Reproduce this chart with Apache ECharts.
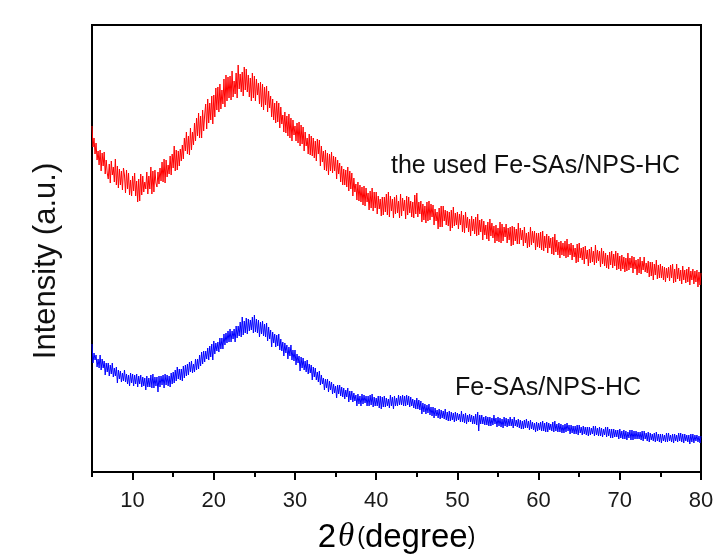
<!DOCTYPE html>
<html>
<head>
<meta charset="utf-8">
<script src="https://cdn.jsdelivr.net/npm/echarts@6/dist/echarts.min.js"></script>
<style>
  html, body { margin: 0; padding: 0; background: #ffffff; }
  #chart { width: 722px; height: 554px; }
</style>
</head>
<body>
<div id="chart"></div>
<script>
// XRD scan: 2θ from 5° to 80°, sampled every 0.125° (one row of 8 readings per degree)
const scanStart = 5;
const scanStep = 0.125;

// Intensity (a.u.) of the used Fe-SAs/NPS-HC sample
const usedIntensity = [
  346,325,334,318,329,312,321,307,
  322,301,319,306,320,298,312,299,
  293,308,289,311,297,305,290,313,
  287,306,284,303,287,301,282,304,
  297,279,302,283,299,277,292,276,
  296,281,299,276,291,270,293,271,
  298,277,296,280,290,283,300,278,
  296,283,305,278,301,280,302,289,
  285,300,288,304,291,310,290,313,
  289,312,295,307,298,316,297,318,
  304,326,301,322,302,321,306,323,
  311,327,313,334,321,340,318,336,
  317,344,322,340,327,349,331,354,
  336,359,334,356,334,362,341,357,
  368,343,373,349,369,352,376,348,
  377,355,384,362,385,360,388,363,
  382,368,393,365,397,371,395,374,
  396,372,401,375,391,378,399,374,
  407,383,398,380,400,376,405,382,
  403,380,397,375,394,371,399,374,
  396,371,393,377,389,368,390,365,
  388,362,385,367,386,360,381,364,
  376,355,373,352,369,349,371,350,
  369,344,365,348,357,340,360,339,
  356,336,358,334,354,331,352,337,
  346,331,349,329,350,326,347,328,
  345,321,340,326,334,318,338,317,
  336,316,334,314,331,311,333,318,
  332,306,326,310,321,302,322,301,
  319,297,318,301,320,299,316,301,
  315,293,312,298,309,290,306,287,
  303,287,302,285,305,281,301,283,
  299,276,294,280,288,272,290,271,
  287,270,285,267,286,266,284,270,
  279,262,281,264,284,261,280,264,
  280,258,276,263,273,256,275,257,
  275,260,278,257,280,255,276,261,
  273,254,275,258,277,259,271,254,
  278,256,274,261,272,253,276,257,
  275,259,271,255,270,254,277,258,
  279,255,270,258,271,250,268,252,
  266,249,270,251,271,252,268,255,
  267,247,263,251,260,243,264,245,
  266,245,266,251,262,247,261,246,
  260,241,262,244,265,246,259,247,
  260,243,258,247,261,240,257,239,
  260,244,255,240,253,236,256,241,
  253,238,255,236,258,237,252,240,
  253,232,251,237,247,233,250,231,
  253,236,249,234,246,229,247,231,
  244,230,250,229,248,231,245,235,
  248,229,244,232,245,226,246,227,
  245,231,243,228,249,228,244,232,
  242,226,245,229,239,224,240,225,
  245,227,241,229,241,222,239,225,
  239,224,240,222,241,221,236,224,
  238,219,236,224,234,218,235,217,
  238,220,232,217,230,214,231,217,
  229,216,231,214,233,215,228,217,
  229,212,227,215,224,209,228,210,
  229,214,224,212,225,208,226,213,
  222,206,223,209,225,210,221,207,
  227,209,222,211,221,205,224,208,
  221,206,219,204,217,203,220,207,
  221,204,218,206,221,202,219,203,
  216,201,217,203,215,200,214,201,
  219,202,214,204,216,199,215,203,
  212,197,213,199,215,198,211,202,
  215,200,209,199,211,195,210,196,
  210,192,208,197,212,193,207,194,
  208,194,206,192,205,190,204,194,
  205,191,207,194,208,189,203,190,
  208,193,204,191,202,188,206,192,
  202,189,203,190,205,187,201,192,
  203,188,201,190,202,185,200,187,
  199
];

// Intensity (a.u.) of the fresh Fe-SAs/NPS-HC sample
const freshIntensity = [
  128,109,119,112,117,105,113,104,
  117,102,113,104,111,97,109,100,
  109,96,107,98,109,95,104,96,
  105,89,102,93,101,90,99,91,
  102,90,98,88,97,86,99,89,
  98,86,97,88,98,85,96,88,
  97,85,95,86,94,82,96,85,
  94,85,97,84,98,84,95,86,
  95,80,96,85,96,87,97,84,
  98,87,97,86,96,85,99,88,
  100,89,102,91,105,93,103,92,
  103,91,106,94,107,96,108,97,
  110,100,111,99,108,100,113,102,
  113,103,117,106,120,108,121,110,
  121,113,124,112,126,115,128,112,
  131,118,129,121,130,120,134,123,
  134,123,138,127,139,129,141,130,
  143,130,141,133,143,130,146,134,
  146,136,150,135,155,137,151,139,
  154,138,153,141,152,142,155,139,
  157,140,153,139,152,135,150,138,
  151,136,148,135,149,131,145,133,
  142,125,140,129,138,125,137,126,
  138,122,133,121,130,116,129,119,
  127,113,125,116,127,112,122,111,
  122,107,118,109,116,101,115,104,
  114,102,111,100,112,98,108,99,
  107,92,105,95,104,92,100,90,
  101,87,97,88,94,82,93,84,
  93,80,91,82,90,78,88,79,
  86,74,87,78,87,76,85,75,
  84,73,82,75,84,70,81,72,
  81,70,79,71,77,66,78,68,
  76,66,78,68,77,69,76,66,
  76,66,77,67,78,65,75,66,
  74,66,76,64,76,63,75,65,
  76,65,74,66,73,64,77,66,
  75,63,76,66,74,66,77,67,
  76,67,77,66,76,66,77,67,
  76,65,75,66,73,64,72,63,
  74,63,72,62,71,58,69,60,
  68,58,67,59,68,57,65,56,
  65,54,64,56,62,54,63,53,
  62,54,61,53,63,52,60,51,
  61,51,60,52,59,50,60,51,
  59,52,58,50,61,50,58,49,
  59,48,57,50,58,50,57,48,
  56,48,58,47,60,41,57,48,
  57,48,55,47,56,47,55,46,
  55,46,54,47,57,48,54,45,
  55,46,54,45,53,44,55,46,
  54,45,53,46,55,46,53,44,
  55,46,52,45,53,44,52,43,
  51,43,52,44,53,44,51,42,
  52,43,50,42,49,40,50,41,
  49,42,50,41,51,41,49,40,
  50,40,49,42,48,41,50,40,
  51,41,48,40,49,40,48,39,
  47,39,48,40,49,41,47,38,
  47,39,46,38,46,38,47,37,
  47,39,45,37,46,38,45,37,
  45,36,45,37,44,38,46,36,
  46,37,44,36,45,36,44,35,
  43,37,45,35,45,36,43,34,
  43,34,43,35,42,35,42,33,
  43,34,41,33,42,33,41,32,
  40,34,42,32,42,32,41,33,
  41,33,40,33,40,32,41,31,
  41,33,39,31,40,30,39,32,
  38,31,39,30,40,31,38,30,
  38,29,38,31,37,30,39,30,
  39,31,37,30,38,29,38,31,
  37,30,39,31,39,30,38,29,
  38,31,37,30,37,28,38,30,
  38,29,37,31,37,30,36,29,
  36
];

// Axis ticks
const majorTicks = [10, 20, 30, 40, 50, 60, 70, 80];
const minorTicks = [5, 15, 25, 35, 45, 55, 65, 75];

const seriesNames = ['the used Fe-SAs/NPS-HC', 'Fe-SAs/NPS-HC'];

function pairUp(values) {
  return values.map((v, i) => [scanStart + i * scanStep, v]);
}

const chart = echarts.init(document.getElementById('chart'), null, { renderer: 'canvas' });

const sans = 'Liberation Sans, Arial, sans-serif';

chart.setOption({
  backgroundColor: '#ffffff',
  animation: false,
  grid: {
    left: 92, right: 21, top: 25, bottom: 82,
    outerBoundsMode: 'none',
    containLabel: false,
    show: true,
    borderColor: '#000000',
    borderWidth: 2,
    backgroundColor: 'transparent'
  },
  xAxis: [
    {
      type: 'value',
      min: 5,
      max: 80,
      position: 'bottom',
      axisLine: { show: true, onZero: false, lineStyle: { color: '#000', width: 2 } },
      axisTick: { show: true, inside: false, length: 8, customValues: majorTicks,
                  lineStyle: { color: '#000', width: 2 } },
      axisLabel: { show: true, margin: 18, customValues: majorTicks,
                   fontFamily: sans, fontSize: 22, color: '#1a1a1a' },
      splitLine: { show: false },
      name: '{n|2}{t|θ}{p|(}{n|degree}{p|)}',
      nameLocation: 'middle',
      nameGap: 49,
      nameTextStyle: {
        rich: {
          n: { fontFamily: sans, fontSize: 33, color: '#000' },
          t: { fontFamily: 'Liberation Serif, Times New Roman, serif', fontStyle: 'italic', fontSize: 33, color: '#000', padding: [0, 3, 0, 2] },
          p: { fontFamily: sans, fontSize: 23, color: '#000' }
        }
      }
    },
    {
      type: 'value',
      min: 5,
      max: 80,
      position: 'bottom',
      axisLine: { show: false },
      axisTick: { show: true, inside: false, length: 5, customValues: minorTicks,
                  lineStyle: { color: '#000', width: 2 } },
      axisLabel: { show: false },
      splitLine: { show: false }
    }
  ],
  yAxis: {
    type: 'value',
    min: 0,
    max: 447,
    axisLine: { show: true, lineStyle: { color: '#000', width: 2 } },
    axisTick: { show: false },
    axisLabel: { show: false },
    splitLine: { show: false }
  },
  series: [
    {
      name: seriesNames[0],
      type: 'line',
      xAxisIndex: 0,
      data: pairUp(usedIntensity),
      showSymbol: false,
      symbol: 'none',
      clip: true,
      lineStyle: { color: '#ff0000', width: 1 },
      emphasis: { disabled: true },
      z: 3
    },
    {
      name: seriesNames[1],
      type: 'line',
      xAxisIndex: 0,
      data: pairUp(freshIntensity),
      showSymbol: false,
      symbol: 'none',
      clip: true,
      lineStyle: { color: '#0000ff', width: 1 },
      emphasis: { disabled: true },
      z: 3
    }
  ],
  graphic: [
    {
      type: 'text',
      left: 391,
      top: 154,
      style: { text: seriesNames[0], fontFamily: sans, fontSize: 25, fill: '#111' }
    },
    {
      type: 'text',
      left: 455,
      top: 376,
      style: { text: seriesNames[1], fontFamily: sans, fontSize: 25, fill: '#111' }
    },
    {
      type: 'text',
      x: 46,
      y: 261,
      rotation: Math.PI / 2,
      style: {
        text: 'Intensity (a.u.)',
        fontFamily: sans,
        fontSize: 31,
        fill: '#111',
        align: 'center',
        verticalAlign: 'middle'
      }
    }
  ]
});
</script>
</body>
</html>
